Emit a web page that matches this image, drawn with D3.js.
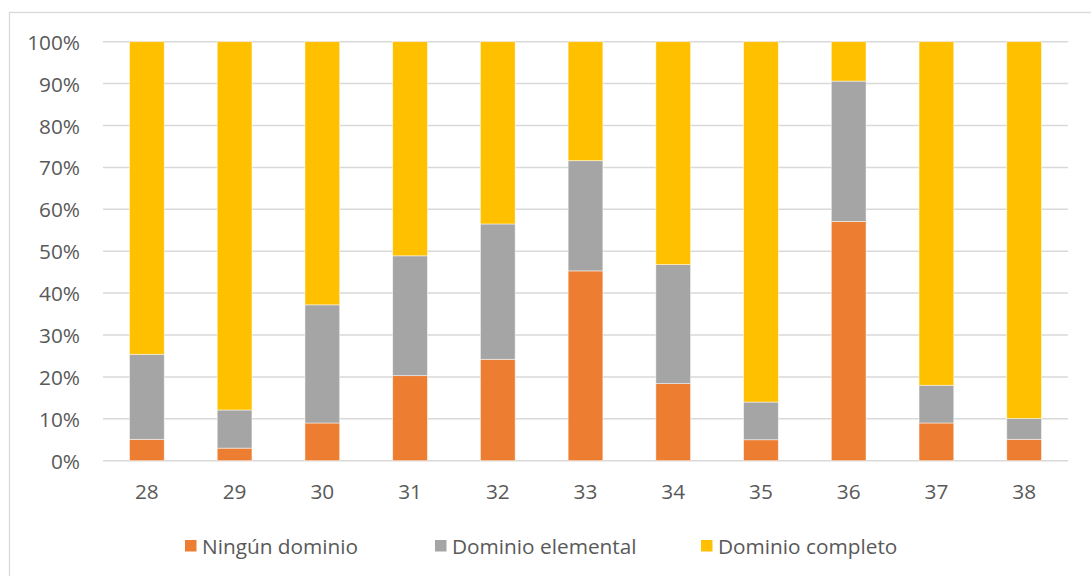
<!DOCTYPE html>
<html><head><meta charset="utf-8">
<script src="https://cdn.jsdelivr.net/npm/d3@7"></script>
<style>html,body{margin:0;padding:0;background:#fff;}svg{display:block;}</style>
</head><body>
<svg id="chart" width="1091" height="576"></svg>
<script>
const categories = ["28","29","30","31","32","33","34","35","36","37","38"];
const ningunDominio = [5.1, 3.0, 9.0, 20.3, 24.2, 45.3, 18.4, 5.0, 57.1, 9.0, 5.1];
const dominioElemental = [20.3, 9.1, 28.2, 28.6, 32.3, 26.3, 28.4, 9.0, 33.5, 9.0, 5.0];
const dominioCompleto = [74.6, 87.9, 62.8, 51.1, 43.5, 28.4, 53.2, 86.0, 9.4, 82.0, 89.9];
const seriesNames = ["Ningún dominio", "Dominio elemental", "Dominio completo"];
const yTicks = [0,10,20,30,40,50,60,70,80,90,100];

const colors = ["#ED7D31", "#A5A5A5", "#FFC000"];
const font = "'Open Sans', 'Liberation Sans', sans-serif";
const textColor = "#595959";
const fontSize = 20.8;

const svg = d3.select("#chart");
// frame
svg.append("rect").attr("x", 9.5).attr("y", 12.5).attr("width", 1200).attr("height", 700)
  .attr("fill", "#fff").attr("stroke", "#D9D9D9").attr("stroke-width", 1.3);

const pLeft = 103, pRight = 1068, pTop = 41.7, pBottom = 460.7;
const x = d3.scaleBand().domain(categories).range([pLeft, pRight]).paddingInner(0.604).paddingOuter(0.302);
const y = d3.scaleLinear().domain([0, 100]).range([pBottom, pTop]);

// gridlines
svg.append("g").selectAll("line").data(yTicks).join("line")
  .attr("x1", pLeft).attr("x2", pRight)
  .attr("y1", d => y(d)).attr("y2", d => y(d))
  .attr("stroke", "#D9D9D9").attr("stroke-width", 1.5);

// y axis labels
const yAxis = d3.axisLeft(y).tickValues(yTicks).tickFormat(d => d + "%").tickSize(0).tickPadding(0);
const yg = svg.append("g").attr("transform", `translate(80,0)`).call(yAxis);
yg.select(".domain").remove();
yg.selectAll("text").attr("font-family", font).attr("font-size", fontSize).attr("fill", textColor).attr("dy", "0.36em");

// x axis labels
const xAxis = d3.axisBottom(x).tickSize(0).tickPadding(0);
const xg = svg.append("g").attr("transform", `translate(0,${pBottom})`).call(xAxis);
xg.select(".domain").remove();
xg.selectAll("text").attr("font-family", font).attr("font-size", fontSize).attr("fill", textColor).attr("dy", null).attr("y", 38.5);

// stacked data
const rows = categories.map((c, i) => ({cat: c, s0: ningunDominio[i], s1: dominioElemental[i], s2: dominioCompleto[i]}));
const stack = d3.stack().keys(["s0", "s1", "s2"])(rows);

svg.append("g").selectAll("g").data(stack).join("g")
  .attr("fill", (d, i) => colors[i])
  .selectAll("rect").data(d => d).join("rect")
  .attr("x", d => x(d.data.cat))
  .attr("width", x.bandwidth())
  .attr("y", d => y(d[1]))
  .attr("height", d => y(d[0]) - y(d[1]))
  .attr("stroke", "rgba(255,255,255,0.6)").attr("stroke-width", 0.8);

// legend
const legendX = [185, 435, 701];
const lg = svg.append("g").selectAll("g").data(seriesNames).join("g")
  .attr("transform", (d, i) => `translate(${legendX[i]},540)`);
lg.append("rect").attr("width", 11.5).attr("height", 11.5).attr("fill", (d, i) => colors[i]);
lg.append("text").attr("x", 17).attr("y", 13.5).text(d => d)
  .attr("font-family", font).attr("font-size", fontSize).attr("fill", textColor);
</script>
</body></html>
